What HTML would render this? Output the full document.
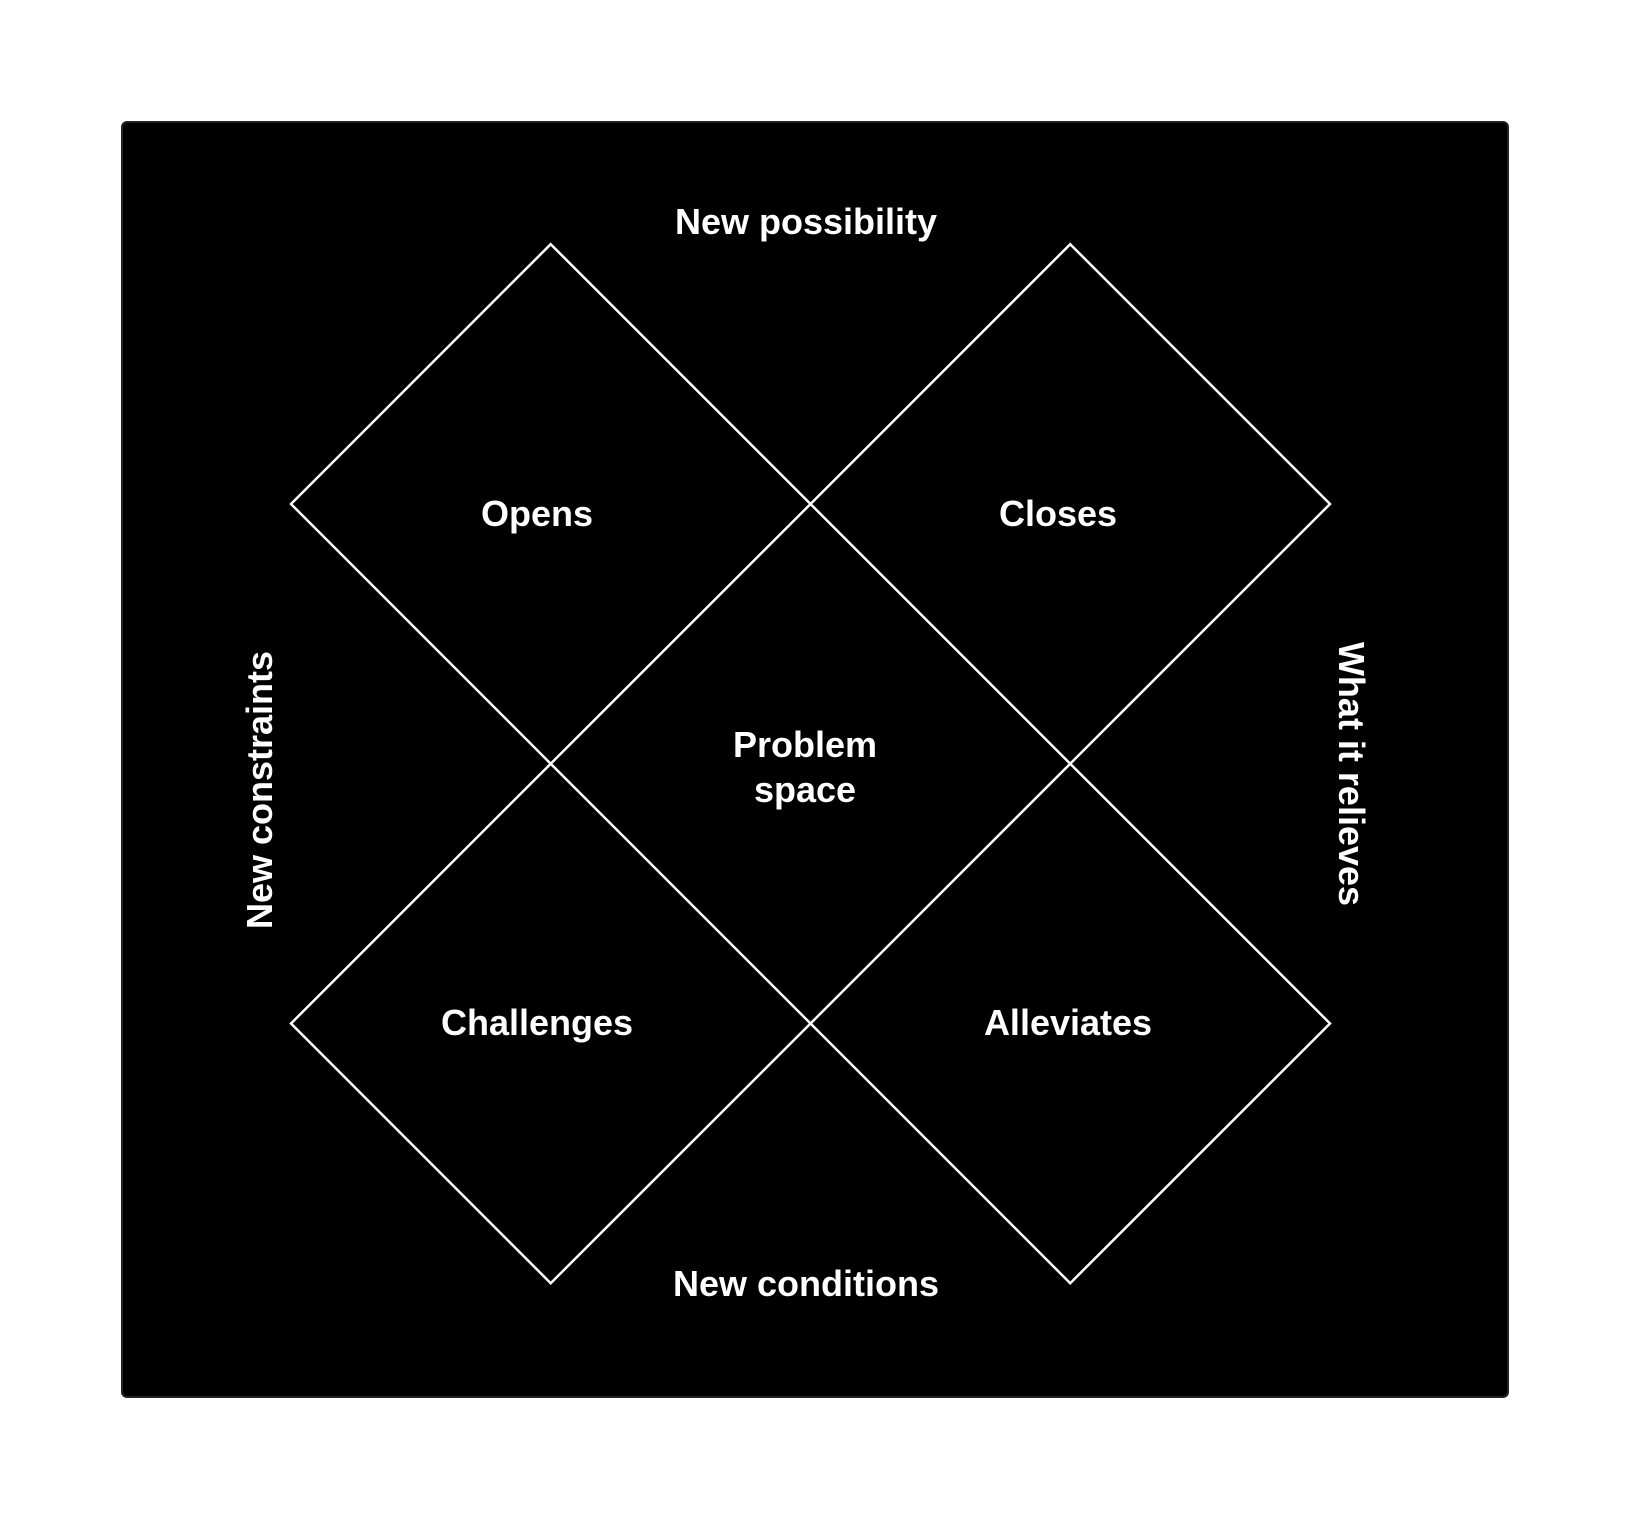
<!DOCTYPE html>
<html><head><meta charset="utf-8"><style>
html,body{margin:0;padding:0;background:#fff;}
svg{display:block;}
text{font-family:"Liberation Sans",Arial,sans-serif;font-weight:bold;fill:#fff;font-size:36px;text-anchor:middle;}
</style></head><body>
<svg width="1629" height="1518" viewBox="0 0 1629 1518" xmlns="http://www.w3.org/2000/svg">
<rect x="122" y="122" width="1386" height="1275" rx="5" fill="#000" stroke="#222" stroke-width="2"/>
<g fill="none" stroke="#fff" stroke-width="2.5">
<polygon points="550.7,244.2 810.5,504 550.7,763.7 291,504"/>
<polygon points="1070.2,244.2 1330,504 1070.2,763.7 810.5,504"/>
<polygon points="550.7,763.7 810.5,1023.5 550.7,1283.2 291,1023.5"/>
<polygon points="1070.2,763.7 1330,1023.5 1070.2,1283.2 810.5,1023.5"/>
</g>
<text x="806" y="234">New possibility</text>
<text x="537" y="526">Opens</text>
<text x="1058" y="526">Closes</text>
<text x="805" y="757">Problem</text>
<text x="805" y="802">space</text>
<text x="537" y="1035">Challenges</text>
<text x="1068" y="1035">Alleviates</text>
<text x="806" y="1296">New conditions</text>
<text transform="translate(272,790) rotate(-90)">New constraints</text>
<text transform="translate(1339,774) rotate(90)">What it relieves</text>
</svg>
</body></html>
